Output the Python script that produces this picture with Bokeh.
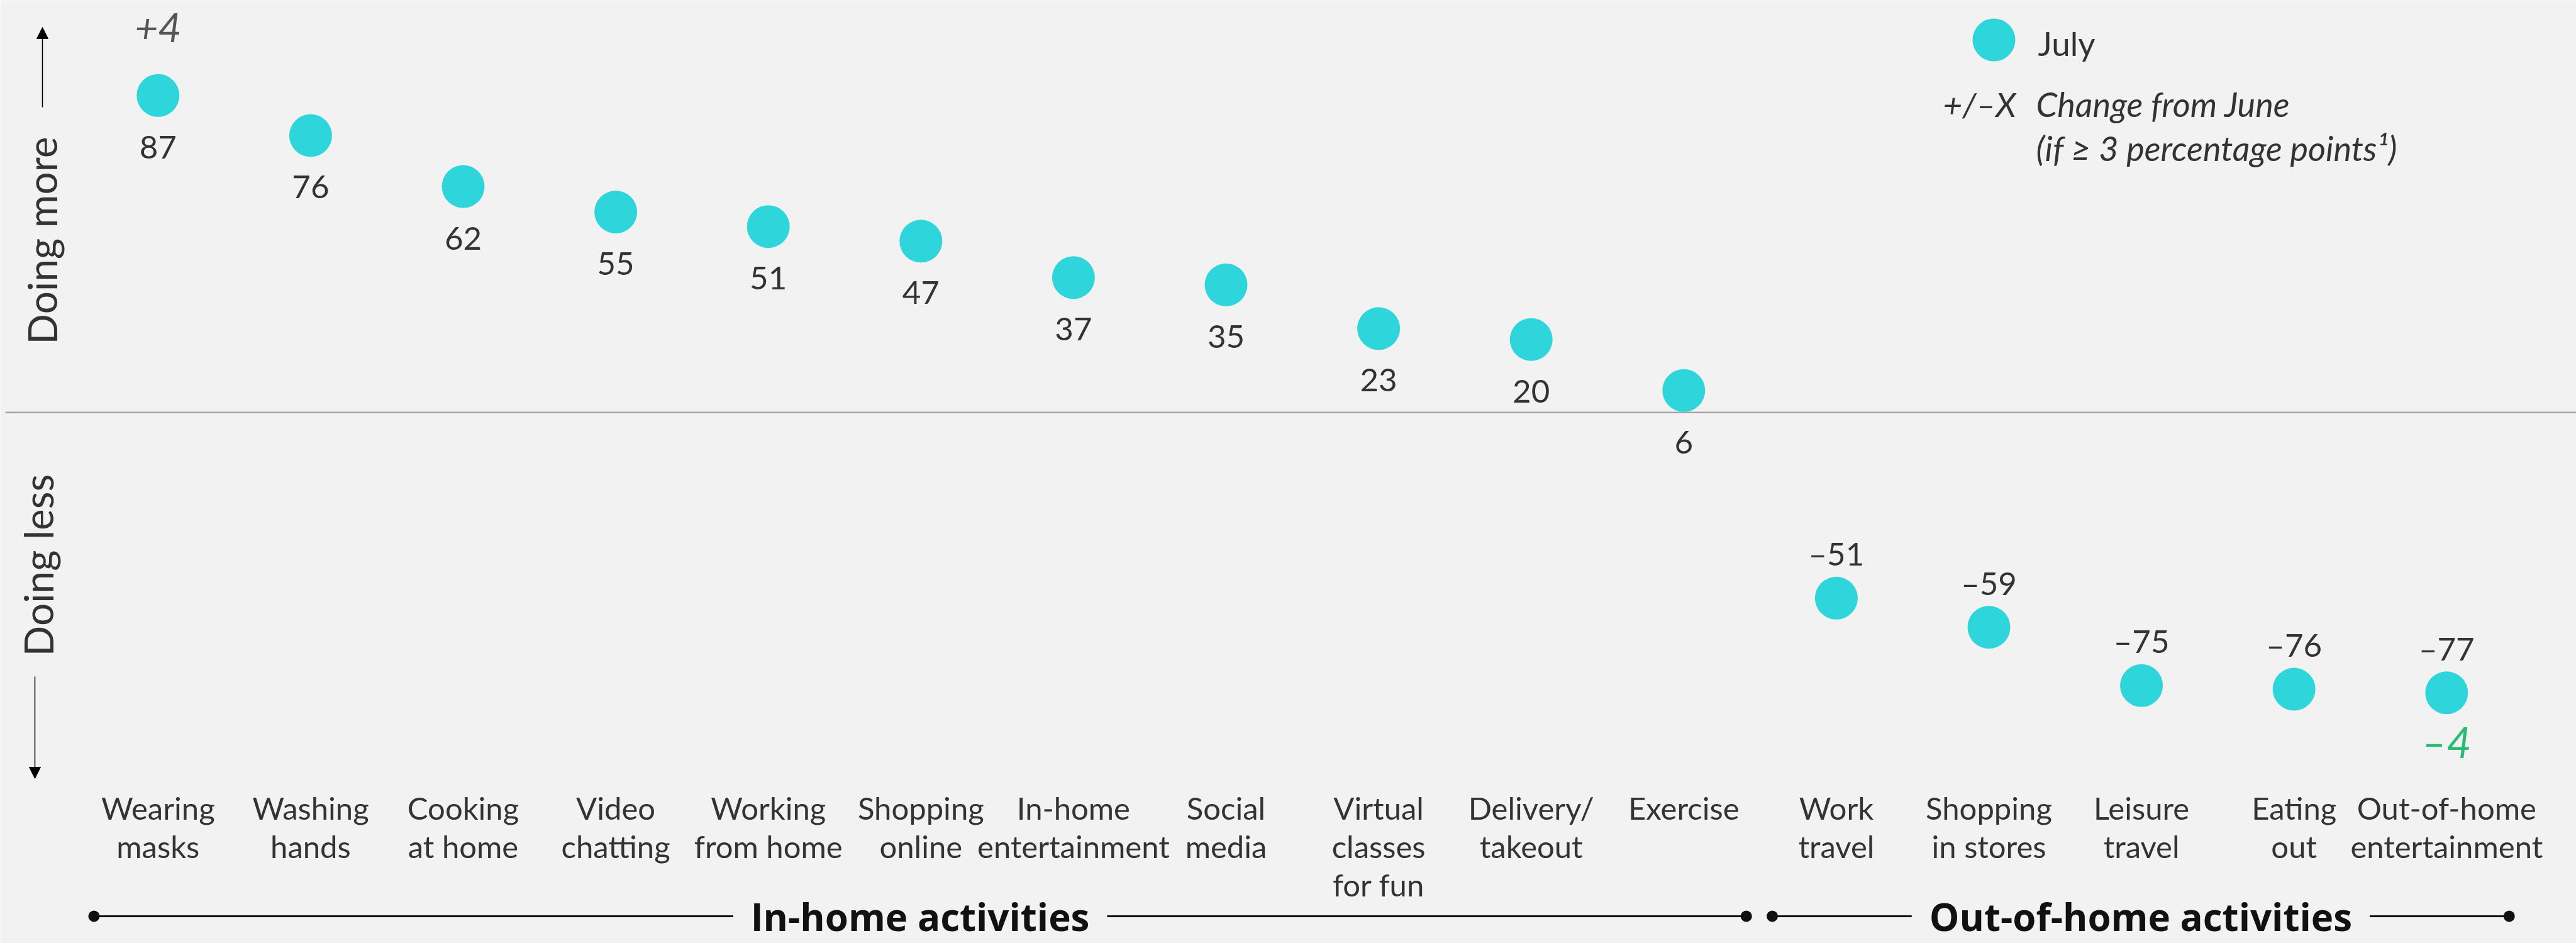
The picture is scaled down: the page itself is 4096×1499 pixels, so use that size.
import math
from bokeh.plotting import figure
from bokeh.models import ColumnDataSource, Label, Arrow, NormalHead
from bokeh.embed import file_html
from bokeh.resources import INLINE

# ---------------- data ----------------
categories = [
    "Wearing\nmasks", "Washing\nhands", "Cooking\nat home", "Video\nchatting",
    "Working\nfrom home", "Shopping\nonline", "In-home\nentertainment", "Social\nmedia",
    "Virtual\nclasses\nfor fun", "Delivery/\ntakeout", "Exercise",
    "Work\ntravel", "Shopping\nin stores", "Leisure\ntravel", "Eating\nout",
    "Out-of-home\nentertainment",
]
july = [87, 76, 62, 55, 51, 47, 37, 35, 23, 20, 6, -51, -59, -75, -76, -77]
change_from_june = [4, 0, 0, 0, 0, 0, 0, 0, 0, 0, 0, 0, 0, 0, 0, -4]
groups = ["In-home activities", "Out-of-home activities"]
group_sizes = [11, 5]

# ---------------- styles ----------------
W, H = 4096, 1499
BG = "#F2F2F2"
DOT = "#2ED5DB"
TXT = "#333333"
GREEN = "#29BA74"
FONT = "Lato"

XU, X0 = 242.6, 250.8      # px per category, px of first category
YU, Y0 = 5.79, 655.0       # px per percentage point, px of zero line


def px(pix):
    return (pix - X0) / XU


def py(pix):
    return (Y0 - pix) / YU


p = figure(width=W, height=H, output_backend="svg", toolbar_location=None,
           x_range=(px(0), px(W)), y_range=(py(H), py(0)),
           x_axis_location=None, y_axis_location=None, min_border=0)
p.background_fill_color = BG
p.border_fill_color = BG
p.outline_line_color = None
p.xgrid.visible = False
p.ygrid.visible = False

idx = list(range(len(categories)))

# zero line
p.segment(x0=[px(8)], y0=[0], x1=[px(W)], y1=[0], line_color="#9A9A9A", line_width=2)

# points
src = ColumnDataSource(dict(
    x=idx, y=july,
    lbl=[("–%d" % -v) if v < 0 else str(v) for v in july],
    off=[82 if v >= 0 else -71 for v in july],
))
p.scatter("x", "y", source=src, size=68, fill_color=DOT, line_color=None)
p.text("x", "y", text="lbl", source=src, y_offset="off", text_align="center",
       text_baseline="middle", text_font={"value": FONT}, text_font_size="51px",
       text_color=TXT)

# change labels
for i, c in enumerate(change_from_june):
    if abs(c) >= 3:
        if c > 0:
            p.add_layout(Label(x=i, y=july[i], y_offset=108, text="+%d" % c,
                               text_align="center", text_baseline="middle",
                               text_font=FONT, text_font_style="italic",
                               text_font_size="64px", text_color="#555555"))
        else:
            p.add_layout(Label(x=i, y=july[i], y_offset=-77, text="–%d" % -c,
                               text_align="center", text_baseline="middle",
                               text_font=FONT, text_font_style="italic",
                               text_font_size="68px", text_color=GREEN))

# category labels
p.text(x=idx, y=[py(1254)] * len(idx), text=categories, text_align="center",
       text_baseline="top", text_font={"value": FONT}, text_font_size="49px",
       text_line_height=1.06, text_color=TXT)

# group brackets
start = 0
for g, n in zip(groups, group_sizes):
    xa, xb = start - 0.42, start + n - 1 + 0.41
    yy = py(1456)
    p.segment(x0=[xa], y0=[yy], x1=[xb], y1=[yy], line_color="#111111", line_width=3)
    p.scatter(x=[xa, xb], y=[yy, yy], size=18, fill_color="#111111", line_color=None)
    p.add_layout(Label(x=(xa + xb) / 2, y=yy, text=g, text_align="center",
                       text_baseline="middle", text_font="Open Sans", text_font_style="bold",
                       text_font_size="60px", text_color="#111111",
                       background_fill_color=BG,
                       padding=dict(left=28, right=28, top=0, bottom=0)))
    start += n

# y-direction labels and arrows
p.add_layout(Label(x=px(66), y=py(382), text="Doing more", angle=math.pi / 2,
                   text_align="center", text_baseline="middle", text_font=FONT,
                   text_font_size="64px", text_color=TXT))
p.add_layout(Label(x=px(60), y=py(898), text="Doing less", angle=math.pi / 2,
                   text_align="center", text_baseline="middle", text_font=FONT,
                   text_font_size="64px", text_color=TXT))
p.add_layout(Arrow(x_start=px(67), y_start=py(170), x_end=px(67), y_end=py(43),
                   line_width=1.5, line_color="black",
                   end=NormalHead(size=18, fill_color="black", line_color="black", line_width=1)))
p.add_layout(Arrow(x_start=px(55), y_start=py(1075), x_end=px(55), y_end=py(1237),
                   line_width=1.5, line_color="black",
                   end=NormalHead(size=18, fill_color="black", line_color="black", line_width=1)))

# legend
p.scatter(x=[px(3170)], y=[py(63)], size=68, fill_color=DOT, line_color=None)
p.add_layout(Label(x=px(3240), y=py(68), text="July", text_align="left",
                   text_baseline="middle", text_font=FONT, text_font_size="53px",
                   text_color=TXT))
p.add_layout(Label(x=px(3205), y=py(165), text="+/–X", text_align="right",
                   text_baseline="middle", text_font=FONT, text_font_style="italic",
                   text_font_size="53px", text_color=TXT))
p.add_layout(Label(x=px(3237), y=py(165), text="Change from June", text_align="left",
                   text_baseline="middle", text_font=FONT, text_font_style="italic",
                   text_font_size="54px", text_color=TXT))
p.add_layout(Label(x=px(3237), y=py(235), text="(if ≥ 3 percentage points¹)",
                   text_align="left", text_baseline="middle", text_font=FONT,
                   text_font_style="italic", text_font_size="54px", text_color=TXT))

open("out.html", "w").write(file_html(p, INLINE))
